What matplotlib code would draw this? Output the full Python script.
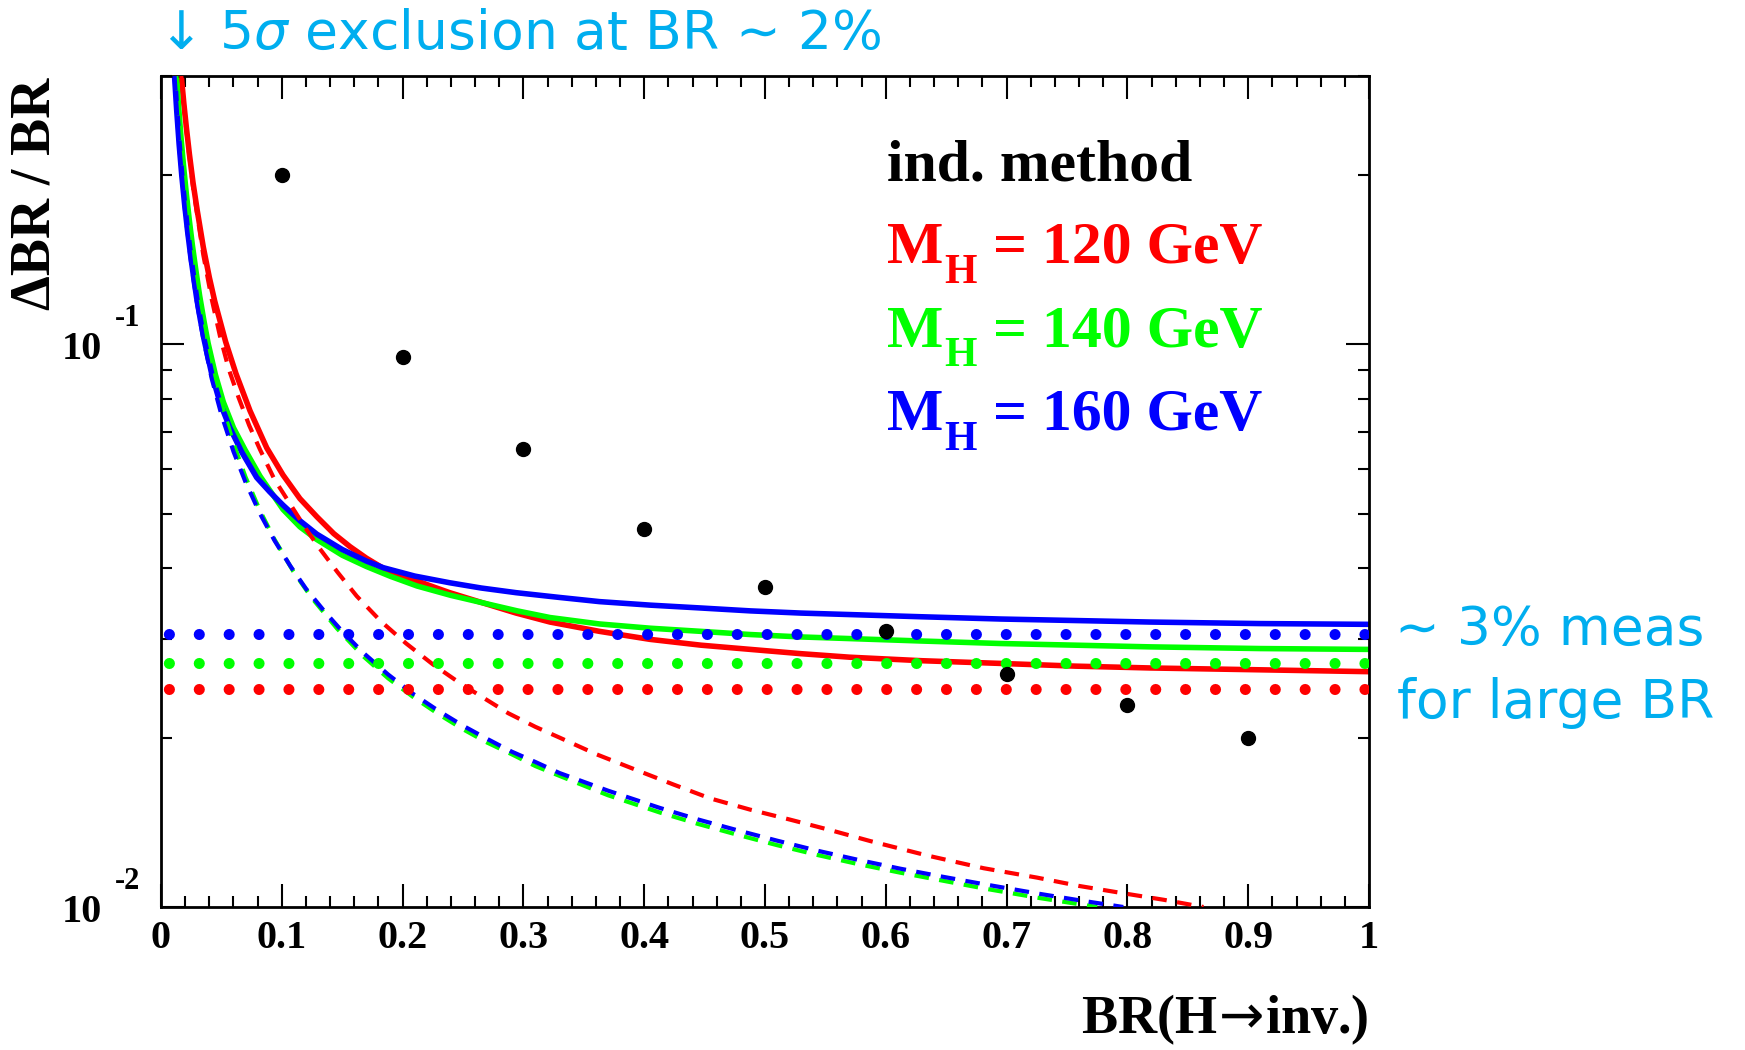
import matplotlib
matplotlib.use("Agg")
import matplotlib.pyplot as plt
import matplotlib.transforms as mtransforms
from matplotlib.ticker import FixedLocator, MultipleLocator, LogLocator, NullFormatter

plt.rcParams["mathtext.fontset"] = "custom"
plt.rcParams["mathtext.rm"] = "DejaVu Sans"
plt.rcParams["mathtext.it"] = "DejaVu Sans:italic"

SERIF = ["Liberation Serif", "DejaVu Serif"]
CYAN = "#00AEEF"
RED, GREEN, BLUE = "#FF0000", "#00FF00", "#0000FF"

# ---- data ---------------------------------------------------------------
# full analysis (with systematics), per Higgs mass
red_solid_x = [0.0168, 0.019, 0.021, 0.0235, 0.0265, 0.030, 0.035, 0.040, 0.0445, 0.0535,
               0.062, 0.0737, 0.0875, 0.101, 0.115, 0.129, 0.143, 0.1565, 0.17, 0.184,
               0.198, 0.2117, 0.225, 0.239, 0.2668, 0.294, 0.322, 0.363, 0.405, 0.447,
               0.488, 0.53, 0.570, 0.63, 0.695, 0.757, 0.819, 0.91, 1.0]
red_solid_y = [0.300, 0.267, 0.243, 0.218, 0.194, 0.173, 0.149, 0.1316, 0.1193, 0.1011,
               0.0888, 0.0762, 0.0655, 0.0586, 0.0532, 0.0494, 0.0461, 0.0437, 0.0417, 0.0400,
               0.0389, 0.0380, 0.0371, 0.0362, 0.0347, 0.0333, 0.0321, 0.0309, 0.0299, 0.0292,
               0.0287, 0.0282, 0.0278, 0.0274, 0.0271, 0.0268, 0.0266, 0.0264, 0.0262]

green_solid_x = [0.0128, 0.0145, 0.0165, 0.0185, 0.021, 0.0235, 0.026, 0.029, 0.032, 0.0355,
                 0.039, 0.045, 0.0516, 0.060, 0.0695, 0.082, 0.101, 0.115, 0.129, 0.15,
                 0.17, 0.19, 0.212, 0.24, 0.267, 0.295, 0.322, 0.363, 0.405, 0.447,
                 0.488, 0.53, 0.570, 0.63, 0.695, 0.757, 0.819, 0.91, 1.0]
green_solid_y = [0.300, 0.2655, 0.234, 0.2094, 0.185, 0.1659, 0.150, 0.1348, 0.122, 0.1103,
                 0.1005, 0.0884, 0.079, 0.0711, 0.065, 0.0583, 0.0509, 0.0474, 0.0450, 0.0422,
                 0.0403, 0.0387, 0.0372, 0.0358, 0.0347, 0.0336, 0.0327, 0.03185, 0.0313, 0.0309,
                 0.0305, 0.0302, 0.0300, 0.0297, 0.0294, 0.0292, 0.0290, 0.0288, 0.0287]

blue_solid_x = [0.0112, 0.013, 0.015, 0.0172, 0.0196, 0.022, 0.0245, 0.027, 0.0295, 0.0325,
                0.0358, 0.042, 0.0488, 0.057, 0.0668, 0.0792, 0.09, 0.101, 0.115, 0.129,
                0.15, 0.17, 0.184, 0.21, 0.239, 0.265, 0.294, 0.33, 0.363, 0.405,
                0.447, 0.488, 0.53, 0.570, 0.63, 0.695, 0.757, 0.819, 0.91, 1.0]
blue_solid_y = [0.300, 0.2604, 0.227, 0.1996, 0.177, 0.159, 0.144, 0.1317, 0.121, 0.1109,
                0.1017, 0.0886, 0.0788, 0.0711, 0.0644, 0.0580, 0.0547, 0.0518, 0.0486, 0.0460,
                0.0432, 0.0412, 0.0401, 0.03875, 0.0377, 0.0369, 0.0362, 0.0355, 0.0349, 0.0344,
                0.0340, 0.0336, 0.0333, 0.0331, 0.0328, 0.0325, 0.0323, 0.0321, 0.0319, 0.0318]

# statistical part only
red_dash_x = [0.0168, 0.021, 0.0265, 0.035, 0.042, 0.0488, 0.056, 0.064, 0.073, 0.082,
              0.094, 0.107, 0.12, 0.1316, 0.146, 0.162, 0.182, 0.203, 0.225, 0.2475,
              0.2675, 0.2875, 0.31, 0.330, 0.36, 0.394, 0.4245, 0.4545, 0.4875, 0.5207,
              0.554, 0.587, 0.634, 0.681, 0.725, 0.76, 0.794, 0.83, 0.863]
red_dash_y = [0.300, 0.240, 0.1905, 0.1443, 0.1203, 0.1035, 0.0905, 0.0807, 0.0718, 0.0650,
              0.0575, 0.0520, 0.0470, 0.0433, 0.0394, 0.0357, 0.0322, 0.0294, 0.0270, 0.0250,
              0.0235, 0.0221, 0.0209, 0.0200, 0.0187, 0.0175, 0.0165, 0.0156, 0.0149, 0.0143,
              0.0137, 0.0131, 0.01235, 0.01172, 0.01128, 0.0109, 0.0106, 0.0103, 0.0100]

green_dash_x = [0.0128, 0.0165, 0.021, 0.026, 0.032, 0.039, 0.045, 0.0516, 0.06, 0.07,
                0.082, 0.094, 0.1095, 0.125, 0.1455, 0.1675, 0.188, 0.209, 0.23, 0.25,
                0.27, 0.29, 0.31, 0.33, 0.37, 0.413, 0.445, 0.4766, 0.51, 0.5428,
                0.577, 0.6118, 0.646, 0.681, 0.7277, 0.775]
green_dash_y = [0.300, 0.2333, 0.1838, 0.1488, 0.1213, 0.100, 0.0871, 0.0766, 0.0667, 0.0581,
                0.0506, 0.0450, 0.0395, 0.0354, 0.0313, 0.0279, 0.0255, 0.0236, 0.0220, 0.0207,
                0.0196, 0.0187, 0.0178, 0.0171, 0.0158, 0.01472, 0.01404, 0.01345, 0.01288, 0.01238,
                0.01192, 0.01151, 0.01115, 0.01079, 0.01037, 0.0100]

blue_dash_x = [0.0112, 0.015, 0.02, 0.025, 0.03, 0.035, 0.042, 0.05, 0.06, 0.07,
               0.082, 0.094, 0.107, 0.12, 0.135, 0.15, 0.1675, 0.188, 0.209, 0.23,
               0.25, 0.27, 0.29, 0.31, 0.33, 0.37, 0.413, 0.445, 0.4766, 0.51,
               0.5428, 0.577, 0.6118, 0.646, 0.681, 0.7277, 0.76, 0.7966]
blue_dash_y = [0.300, 0.2267, 0.172, 0.1392, 0.1177, 0.1023, 0.0869, 0.075, 0.0645, 0.0569,
               0.0500, 0.0448, 0.0404, 0.0368, 0.0336, 0.0309, 0.0283, 0.0259, 0.0239, 0.0223,
               0.0210, 0.0199, 0.0189, 0.0181, 0.0173, 0.0161, 0.0150, 0.0143, 0.0137, 0.01312,
               0.0126, 0.01213, 0.0117, 0.01133, 0.01098, 0.01055, 0.01028, 0.0100]

# large-BR limits (dotted)
limit_levels = [0.0244, 0.0272, 0.0306]   # 120, 140, 160 GeV

# points
point_x = [0.1, 0.2, 0.3, 0.4, 0.5, 0.6, 0.7, 0.8, 0.9]
point_y = [0.200, 0.0951, 0.0652, 0.0469, 0.0370, 0.0310, 0.0259, 0.0229, 0.0200]

masses = [120, 140, 160]
colors = [RED, GREEN, BLUE]

x_ticks = [0.0, 0.1, 0.2, 0.3, 0.4, 0.5, 0.6, 0.7, 0.8, 0.9, 1.0]
x_tick_labels = ["0", "0.1", "0.2", "0.3", "0.4", "0.5", "0.6", "0.7", "0.8", "0.9", "1"]
y_ticks = [0.01, 0.1]
y_exponents = ["-2", "-1"]

# ---- figure -------------------------------------------------------------
W, H = 1745, 1050
fig = plt.figure(figsize=(W / 100, H / 100), dpi=100)
ax = fig.add_axes([161 / W, 1 - 907 / H, 1208 / W, 831 / H])
ax.set_yscale("log")
ax.set_xlim(0, 1)
ax.set_ylim(0.01, 0.3)

solid = [(red_solid_x, red_solid_y), (green_solid_x, green_solid_y), (blue_solid_x, blue_solid_y)]
dashed = [(red_dash_x, red_dash_y), (green_dash_x, green_dash_y), (blue_dash_x, blue_dash_y)]

for (xs, ys), c in zip(solid, colors):
    ax.plot(xs, ys, color=c, lw=4.0, solid_joinstyle="round", zorder=2)
for (xs, ys), c in zip(dashed, colors):
    ax.plot(xs, ys, color=c, lw=3.0, linestyle=(0, (3.5, 2.5)), zorder=3)
for lvl, c in zip(limit_levels, colors):
    ax.axhline(lvl, color=c, lw=8.0, linestyle=(1.98, (0.001, 2.689)),
               dash_capstyle="round", zorder=4)
ax.plot(point_x, point_y, "o", color="black", ms=10, zorder=6)

# axes frame and ticks
for sp in ax.spines.values():
    sp.set_linewidth(2.0)
ax.xaxis.set_major_locator(FixedLocator(x_ticks))
ax.xaxis.set_minor_locator(MultipleLocator(0.02))
ax.set_xticklabels(x_tick_labels, fontsize=29, fontweight="bold", family=SERIF)
ax.yaxis.set_major_locator(FixedLocator(y_ticks))
ax.yaxis.set_minor_locator(LogLocator(base=10, subs=range(2, 10)))
ax.yaxis.set_minor_formatter(NullFormatter())
ax.tick_params(which="both", direction="in", top=True, right=True, width=1.5, color="black")
ax.tick_params(which="major", length=16.5)
ax.tick_params(which="minor", length=8)
ax.tick_params(axis="x", pad=9)
ax.tick_params(axis="y", labelleft=False)

# y tick labels in 10^n form
trans = mtransforms.blended_transform_factory(ax.transAxes, ax.transData)
base_tr = mtransforms.offset_copy(trans, fig=fig, x=0, y=-10.8, units="points")
exp_tr = mtransforms.offset_copy(trans, fig=fig, x=0, y=13.0, units="points")
for val, ex in zip(y_ticks, y_exponents):
    ax.text((102 - 161) / 1208, val, "10", transform=base_tr, ha="right", va="baseline",
            fontsize=29, fontweight="bold", family=SERIF, clip_on=False)
    ax.text((115 - 161) / 1208, val, ex, transform=exp_tr, ha="left", va="baseline",
            fontsize=22, fontweight="bold", family=SERIF, clip_on=False)

# axis titles
fig.text(1369 / W, 1 - 1033 / H, r"BR(H$\!\rightarrow\!$inv.)", ha="right", va="baseline",
         fontsize=39, fontweight="bold", family=SERIF)
fig.text(36 / W, 1 - 78 / H, "\u0394BR / BR", rotation=90, ha="center", va="top",
         fontsize=40, fontweight="bold", family=SERIF)

# legend block
bold = dict(fontweight="bold", family=SERIF, ha="left", va="baseline")
fig.text(887 / W, 1 - 180 / H, "ind. method", color="black", fontsize=43, **bold)
for i, (m, c) in enumerate(zip(masses, colors)):
    yb = 263 + 83.5 * i
    fig.text(887 / W, 1 - yb / H, "M", color=c, fontsize=43, **bold)
    fig.text(944 / W, 1 - (yb + 20) / H, "H", color=c, fontsize=30, **bold)
    fig.text(993 / W, 1 - yb / H, "= %d GeV" % m, color=c, fontsize=43, **bold)

# annotations
fig.text(158 / W, 1 - 49 / H, "\u2193 5$\\sigma$ exclusion at BR \u223c 2%",
         color=CYAN, ha="left", va="baseline", fontsize=38.5, family="DejaVu Sans")
fig.text(1395 / W, 1 - 645 / H, "\u223c 3% meas", color=CYAN, ha="left", va="baseline",
         fontsize=38.5, family="DejaVu Sans")
fig.text(1397 / W, 1 - 718 / H, "for large BR", color=CYAN, ha="left", va="baseline",
         fontsize=38.5, family="DejaVu Sans")

fig.savefig("out.png", dpi=100, facecolor="white")
